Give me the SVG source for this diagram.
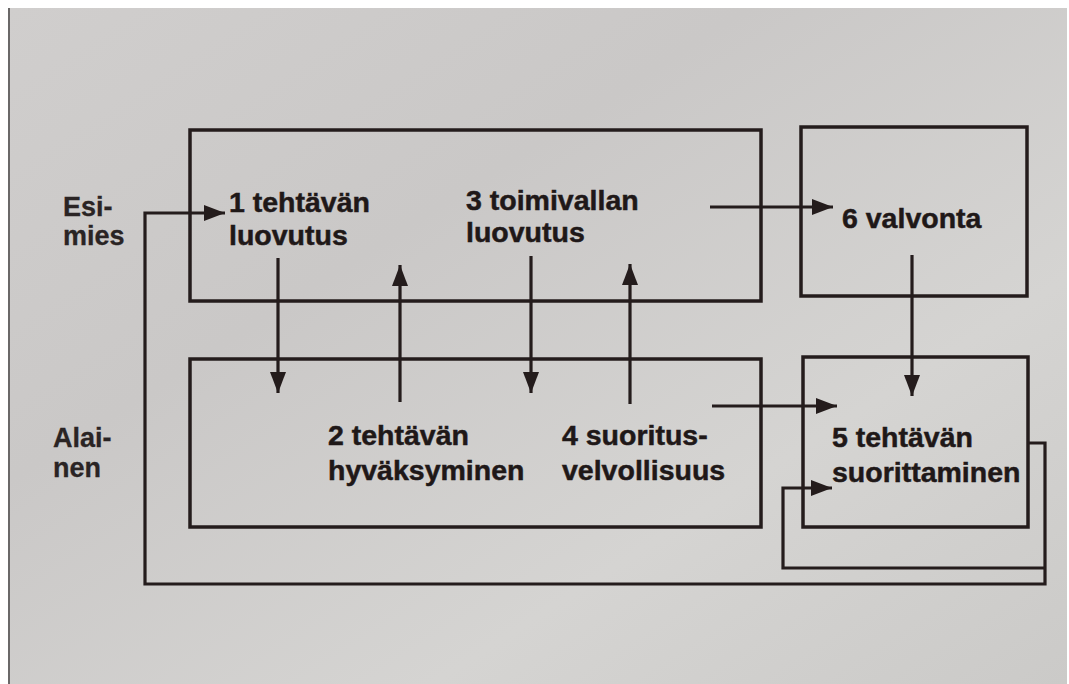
<svg xmlns="http://www.w3.org/2000/svg" width="1069" height="684" viewBox="0 0 1069 684">
<defs>
<linearGradient id="page" x1="0" y1="0" x2="1" y2="1">
<stop offset="0" stop-color="#d0cecd"/>
<stop offset="0.35" stop-color="#cac8c7"/>
<stop offset="0.7" stop-color="#d5d4d2"/>
<stop offset="1" stop-color="#cbcac8"/>
</linearGradient>
<marker id="ah" markerUnits="userSpaceOnUse" markerWidth="22" markerHeight="17" refX="21" refY="8" orient="auto">
<path d="M0,0 L21,8 L0,16 z" fill="#241c1c"/>
</marker>
<style>
.box{fill:none;stroke:#241c1c;stroke-width:3.5}
.ar{fill:none;stroke:#241c1c;stroke-width:3.2;marker-end:url(#ah)}
text{font-family:"Liberation Sans",Arial,sans-serif;font-weight:bold;font-size:28.5px;fill:#1f1818;stroke:#1f1818;stroke-width:0.5}
.side{font-size:27px;fill:#2a2424;stroke:#2a2424;stroke-width:0.3}
</style>
</defs>
<rect x="0" y="0" width="1069" height="684" fill="#ffffff"/>
<rect x="8" y="8" width="1059" height="676" fill="url(#page)"/>
<line x1="9" y1="8" x2="9" y2="684" stroke="#6a6868" stroke-width="2"/>

<g id="label-esimies">
<text class="side" x="63" y="216">Esi-</text>
<text class="side" x="63" y="245">mies</text>
</g>
<g id="label-alainen">
<text class="side" x="53" y="447">Alai-</text>
<text class="side" x="53" y="477">nen</text>
</g>

<g id="box-esimies">
<rect class="box" x="190" y="130" width="571" height="171"/>
</g>
<g id="box-alainen">
<rect class="box" x="190" y="359" width="571" height="168"/>
</g>
<g id="node-6">
<rect class="box" x="801" y="127" width="226" height="169"/>
<text x="842" y="228">6 valvonta</text>
</g>
<g id="node-5">
<rect class="box" x="803" y="357" width="225" height="170"/>
<text x="832" y="447">5 tehtävän</text>
<text x="832" y="482">suorittaminen</text>
</g>
<g id="node-1">
<text x="229" y="212">1 tehtävän</text>
<text x="229" y="245">luovutus</text>
</g>
<g id="node-3">
<text x="466" y="210">3 toimivallan</text>
<text x="466" y="242">luovutus</text>
</g>
<g id="node-2">
<text x="328" y="445">2 tehtävän</text>
<text x="328" y="480">hyväksyminen</text>
</g>
<g id="node-4">
<text x="562" y="445">4 suoritus-</text>
<text x="562" y="480">velvollisuus</text>
</g>

<g id="connectors">
<path class="ar" d="M1028 443 H1045 V584 H145 V213 H225"/>
<path class="ar" d="M1045 568 H783 V488 H832"/>
<path class="ar" d="M278 258 V393"/>
<path class="ar" d="M400 402 V265"/>
<path class="ar" d="M531 256 V393"/>
<path class="ar" d="M630 404 V264"/>
<path class="ar" d="M710 207 H833"/>
<path class="ar" d="M912 255 V396"/>
<path class="ar" d="M712 406 H837"/>
</g>
</svg>
